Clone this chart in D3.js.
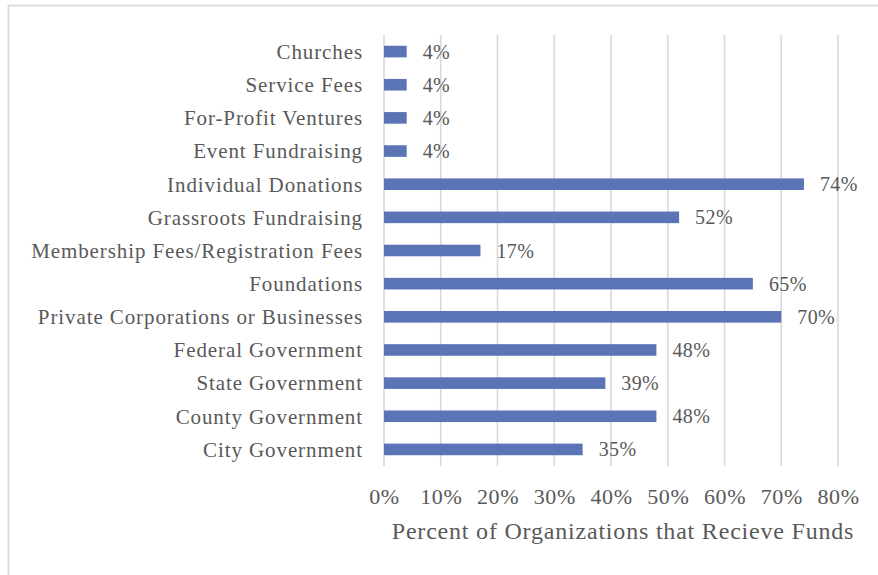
<!DOCTYPE html>
<html>
<head>
<meta charset="utf-8">
<script src="https://cdn.jsdelivr.net/npm/d3@7"></script>
<style>
  html, body { margin: 0; padding: 0; background: #fff; }
  svg { display: block; }
  text { font-family: "Liberation Serif", "DejaVu Serif", serif; fill: #595959; }
</style>
</head>
<body>
<svg id="chart" width="878" height="575"></svg>
<script>
// Funding sources, listed top to bottom
const categories = [
  "Churches",
  "Service Fees",
  "For-Profit Ventures",
  "Event Fundraising",
  "Individual Donations",
  "Grassroots Fundraising",
  "Membership Fees/Registration Fees",
  "Foundations",
  "Private Corporations or Businesses",
  "Federal Government",
  "State Government",
  "County Government",
  "City Government"
];
// Percent of organizations receiving funds from each source
const percents = [4, 4, 4, 4, 74, 52, 17, 65, 70, 48, 39, 48, 35];
const xTicks = [0, 10, 20, 30, 40, 50, 60, 70, 80];
const axisTitle = "Percent of Organizations that Recieve Funds";

const svg = d3.select("#chart");

// outer frame (right and bottom edges run off the canvas)
svg.append("rect")
  .attr("x", 8.5).attr("y", 5.5)
  .attr("width", 878).attr("height", 578)
  .attr("fill", "#fff")
  .attr("stroke", "#d9d9d9")
  .attr("stroke-width", 1.75);

const plot = { left: 384, right: 838, top: 35, bottom: 466 };

const x = d3.scaleLinear().domain([0, 80]).range([plot.left, plot.right]);
const y = d3.scaleBand()
  .domain(categories)
  .range([plot.top, plot.bottom])
  .paddingInner(0.65)
  .paddingOuter(0.325);

// vertical gridlines
svg.append("g")
  .selectAll("line")
  .data(xTicks)
  .join("line")
  .attr("x1", d => x(d)).attr("x2", d => x(d))
  .attr("y1", plot.top).attr("y2", plot.bottom)
  .attr("stroke", "#d9d9d9")
  .attr("stroke-width", 1.6);

// bars
svg.append("g")
  .selectAll("rect")
  .data(categories)
  .join("rect")
  .attr("x", x(0))
  .attr("y", d => y(d))
  .attr("width", (d, i) => x(percents[i]) - x(0))
  .attr("height", y.bandwidth())
  .attr("fill", "#5b74b5");

// category labels
svg.append("g")
  .selectAll("text")
  .data(categories)
  .join("text")
  .attr("x", plot.left - 21)
  .attr("y", d => y(d) + y.bandwidth() / 2)
  .attr("dy", "0.35em")
  .attr("text-anchor", "end")
  .style("font-size", "21px")
  .style("letter-spacing", "0.9px")
  .text(d => d);

// value labels
svg.append("g")
  .selectAll("text")
  .data(categories)
  .join("text")
  .attr("x", (d, i) => x(percents[i]) + 16)
  .attr("y", d => y(d) + y.bandwidth() / 2)
  .attr("dy", "0.35em")
  .style("font-size", "20px")
  .style("letter-spacing", "0.4px")
  .text((d, i) => percents[i] + "%");

// x axis tick labels
const xAxis = d3.axisBottom(x)
  .tickValues(xTicks)
  .tickFormat(d => d + "%")
  .tickSize(0)
  .tickPadding(0);

const gx = svg.append("g")
  .attr("transform", `translate(0, ${plot.bottom})`)
  .call(xAxis);
gx.select(".domain").remove();
gx.selectAll("text")
  .attr("y", 30)
  .attr("dy", "0.35em")
  .style("font-size", "22px")
  .style("letter-spacing", "0.6px")
  .style("font-family", "'Liberation Serif', serif")
  .attr("fill", "#595959");

// axis title
svg.append("text")
  .attr("x", 623)
  .attr("y", 531)
  .attr("dy", "0.35em")
  .attr("text-anchor", "middle")
  .style("font-size", "24px")
  .style("letter-spacing", "0.8px")
  .text(axisTitle);
</script>
</body>
</html>
